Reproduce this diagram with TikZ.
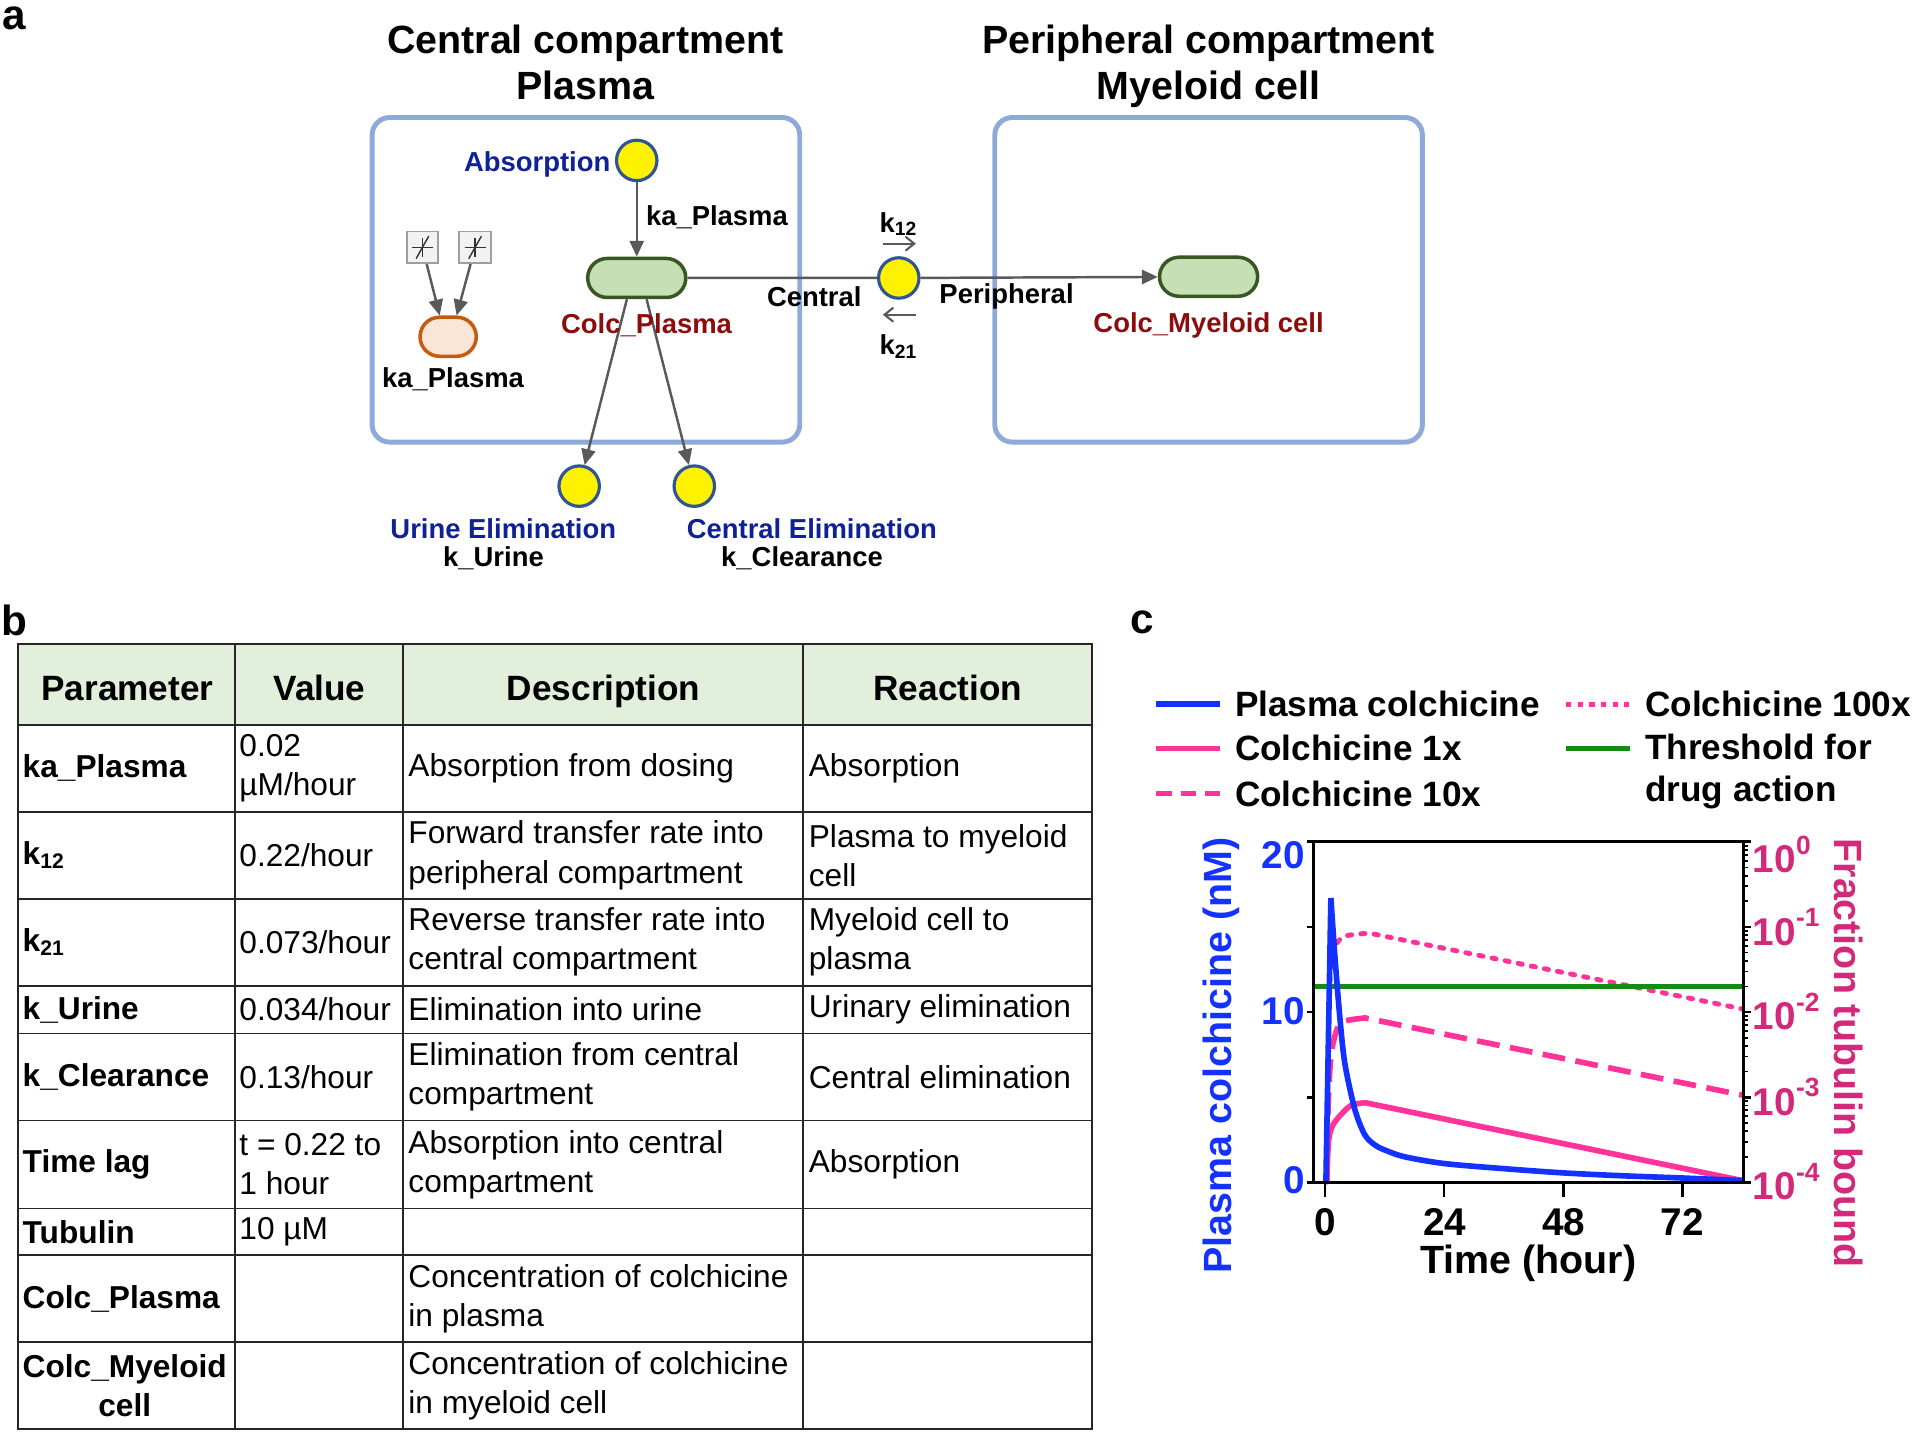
\documentclass[tikz,border=0pt]{standalone}
\usepackage{fontspec}
\setmainfont{Liberation Sans}
\usepackage{tikz}
\usetikzlibrary{positioning, arrows.meta, shapes.misc}
\definecolor{cmpblue}{RGB}{142,170,219}
\definecolor{pillgreen}{RGB}{197,224,180}
\definecolor{pilledge}{RGB}{56,87,35}
\definecolor{rxnedge}{RGB}{47,85,151}
\definecolor{srcfill}{RGB}{251,229,214}
\definecolor{srcedge}{RGB}{197,90,17}
\definecolor{flowgray}{RGB}{89,89,89}
\definecolor{rxnblue}{RGB}{16,32,150}
\definecolor{spred}{RGB}{140,12,12}
\definecolor{hdrgreen}{RGB}{226,239,218}
\definecolor{plotblue}{RGB}{20,50,255}
\definecolor{plotpink}{RGB}{255,51,153}
\definecolor{axpink}{RGB}{212,40,122}
\definecolor{thrgreen}{RGB}{20,140,20}
\newcommand{\fsz}[2]{\fontsize{#1}{#2}\selectfont}
\newcommand{\tenpow}[1]{10\raisebox{0.9ex}{\fsz{7.5}{8}#1}}
\tikzset{
    compbox/.style={draw=cmpblue, line width=1.4pt, rounded corners=5pt, minimum width=121.6pt, minimum height=92.3pt, inner sep=0pt},
    species/.style={rounded rectangle, draw=pilledge, fill=pillgreen, line width=1pt, minimum width=27.9pt, minimum height=11.1pt, inner sep=0pt},
    srcnode/.style={rounded rectangle, draw=srcedge, fill=srcfill, line width=1pt, minimum width=16pt, minimum height=11.1pt, inner sep=0pt},
    rxnnode/.style={circle, draw=rxnedge, fill=yellow, line width=0.9pt, minimum size=11.5pt, inner sep=0pt},
    sinknode/.style={rectangle, draw=gray!75, fill=gray!10, line width=0.5pt, minimum size=9pt, inner sep=0pt},
    flow/.style={draw=flowgray, line width=0.7pt, -{Triangle[length=4.5pt,width=4pt]}},
    flowline/.style={draw=flowgray, line width=0.7pt},
    ratearrow/.style={draw=flowgray, line width=0.6pt, -{Straight Barb[length=2.5pt,width=4pt]}},
    panellbl/.style={font=\bfseries\fsz{12}{14}, inner sep=0pt},
    titletxt/.style={font=\bfseries\fsz{11.2}{12.9}, align=center, inner sep=0pt, anchor=base},
    lbl/.style={font=\bfseries\fsz{7.8}{9}, inner sep=0pt},
    hdr/.style={font=\bfseries\fsz{10}{12}, inner sep=0pt, anchor=base},
    cellb/.style={font=\bfseries\fsz{9}{11.1}, anchor=west, align=left, inner sep=0pt},
    cell/.style={font=\fsz{9}{11.1}, anchor=west, align=left, inner sep=0pt},
    tabline/.style={draw=black!85, line width=0.5pt},
    legtxt/.style={font=\bfseries\fsz{10}{12.2}, anchor=west, align=left, inner sep=0pt},
    tickl/.style={font=\bfseries\fsz{11}{13}, inner sep=0pt},
    axttl/.style={font=\bfseries\fsz{11.2}{13}, inner sep=0pt},
    axline/.style={draw=black, line width=0.8pt}
}

\begin{document}
\begin{tikzpicture}[x=0.012245cm, y=-0.012245cm]
\useasboundingbox (0,0) rectangle (1568,1174);

% ---- a: model scheme
\node[panellbl] (la) at (12,15) {a};
\node[titletxt] (tCen) at (478,81) {Central compartment\\Plasma};
\node[titletxt] (tPer) at (987,81) {Peripheral compartment\\Myeloid cell};
\node[compbox] (cenBox) at (478.5,228.5) {};
\node[compbox] (perBox) at (987,228.5) {};

\node[rxnnode] (absR) at (520,131) {};
\node[species] (colcP) at (520,227) {};
\node[rxnnode] (trans) at (734,227) {};
\node[species] (colcM) at (987,226) {};
\node[srcnode] (kaP) at (366,275) {};
\node[sinknode] (src1) at (345,202) {};
\node[sinknode] (src2) at (388,202) {};
\node[rxnnode] (urine) at (473,397) {};
\node[rxnnode] (celim) at (567,397) {};

\foreach \s in {src1,src2} {
    \draw[gray!40!black, line width=0.4pt] ([xshift=-3pt]\s.center) -- ([xshift=3pt]\s.center);
    \draw[gray!40!black, line width=0.4pt] ([yshift=-2.6pt]\s.center) -- ([yshift=2.6pt]\s.center);
    \draw[gray!40!black, line width=0.4pt] ([shift={(-1.8pt,-3.2pt)}]\s.center) -- ([shift={(1.8pt,3.2pt)}]\s.center);
}

\draw[flow] (absR) -- (colcP);
\draw[flowline] (colcP) -- (trans);
\draw[flow] (trans) -- (colcM);
\draw[flow] (src1) -- ([xshift=-2.4pt]kaP.north);
\draw[flow] (src2) -- ([xshift=2.4pt]kaP.north);
\draw[flow] ([xshift=-2.8pt]colcP.south) -- (urine);
\draw[flow] ([xshift=2.8pt]colcP.south) -- (celim);

\coordinate (k12s) at (721,199);
\coordinate (k12e) at (748,199);
\coordinate (k21s) at (748,257);
\coordinate (k21e) at (721,257);
\draw[ratearrow] (k12s) -- (k12e);
\draw[ratearrow] (k21s) -- (k21e);

\node[lbl, rxnblue, anchor=east] (lAbs) at (499,134) {Absorption};
\node[lbl, anchor=west] (lKa) at (527,177) {ka\_Plasma};
\node[lbl, spred] (lColcP) at (528,266) {Colc\_Plasma};
\node[lbl] (lCen) at (665,242) {Central};
\node[lbl] (lPer) at (822,242) {Peripheral};
\node[lbl] (lk12) at (734,183) {k\textsubscript{12}};
\node[lbl] (lk21) at (734,283) {k\textsubscript{21}};
\node[lbl, spred] (lColcM) at (987,266) {Colc\_Myeloid cell};
\node[lbl] (lKaSrc) at (370,310) {ka\_Plasma};
\node[lbl, rxnblue] (lUri) at (411,432) {Urine Elimination};
\node[lbl] (lkUri) at (403,456) {k\_Urine};
\node[lbl, rxnblue] (lCel) at (663,432) {Central Elimination};
\node[lbl] (lkCl) at (655,456) {k\_Clearance};

% ---- b: parameter table
\node[panellbl] (lb) at (12,507) {b};
\fill[hdrgreen] (15,526) rectangle (892,592);
\draw[tabline] (15,526) rectangle (892,1167);
\foreach \ry in {592,663,734,805,844,915,987,1025,1096}
    \draw[tabline] (15,\ry) -- (892,\ry);
\foreach \cx in {192,329,656}
    \draw[tabline] (\cx,526) -- (\cx,1167);

\node[hdr] (hPar) at (104,572) {Parameter};
\node[hdr] (hVal) at (261,572) {Value};
\node[hdr] (hDes) at (493,572) {Description};
\node[hdr] (hRxn) at (774,572) {Reaction};

\node[cellb] (pKa) at (18,627.5) {ka\_Plasma};
\node[cell] (vKa) at (195,627.5) {0.02\\µM/hour};
\node[cell] (dKa) at (333,627.5) {Absorption from dosing};
\node[cell] (rKa) at (660,627.5) {Absorption};

\node[cellb] (pK12) at (18,698.5) {k\textsubscript{12}};
\node[cell] (vK12) at (195,698.5) {0.22/hour};
\node[cell] (dK12) at (333,698.5) {Forward transfer rate into\\peripheral compartment};
\node[cell] (rK12) at (660,698.5) {Plasma to myeloid\\cell};

\node[cellb] (pK21) at (18,769.5) {k\textsubscript{21}};
\node[cell] (vK21) at (195,769.5) {0.073/hour};
\node[cell] (dK21) at (333,769.5) {Reverse transfer rate into\\central compartment};
\node[cell] (rK21) at (660,769.5) {Myeloid cell to\\plasma};

\node[cellb] (pKu) at (18,824.5) {k\_Urine};
\node[cell] (vKu) at (195,824.5) {0.034/hour};
\node[cell] (dKu) at (333,824.5) {Elimination into urine};
\node[cell] (rKu) at (660,824.5) {Urinary elimination};

\node[cellb] (pKc) at (18,879.5) {k\_Clearance};
\node[cell] (vKc) at (195,879.5) {0.13/hour};
\node[cell] (dKc) at (333,879.5) {Elimination from central\\compartment};
\node[cell] (rKc) at (660,879.5) {Central elimination};

\node[cellb] (pLag) at (18,951) {Time lag};
\node[cell] (vLag) at (195,951) {t = 0.22 to\\1 hour};
\node[cell] (dLag) at (333,951) {Absorption into central\\compartment};
\node[cell] (rLag) at (660,951) {Absorption};

\node[cellb] (pTub) at (18,1006) {Tubulin};
\node[cell] (vTub) at (195,1006) {10 µM};

\node[cellb] (pCp) at (18,1060.5) {Colc\_Plasma};
\node[cell] (dCp) at (333,1060.5) {Concentration of colchicine\\in plasma};

\node[cellb, align=center] (pCm) at (18,1131.5) {Colc\_Myeloid\\cell};
\node[cell] (dCm) at (333,1131.5) {Concentration of colchicine\\in myeloid cell};

% ---- c: simulation plot
\node[panellbl] (lc) at (933,508) {c};

\draw[plotblue, line width=1.5pt] (944,575) -- (996,575);
\draw[plotpink, line width=1.5pt] (944,611) -- (996,611);
\draw[plotpink, line width=1.5pt, dash pattern=on 4.5pt off 2.5pt] (944,648) -- (996,648);
\draw[plotpink, line width=1.4pt, dash pattern=on 1.5pt off 1.8pt] (1279,575) -- (1331,575);
\draw[thrgreen, line width=1.5pt] (1279,611) -- (1331,611);
\node[legtxt] (lgBlue) at (1008,575) {Plasma colchicine};
\node[legtxt] (lgOne) at (1008,611) {Colchicine 1x};
\node[legtxt] (lgTen) at (1008,648) {Colchicine 10x};
\node[legtxt] (lgHun) at (1343,575) {Colchicine 100x};
\node[legtxt] (lgThr) at (1343,630) {Threshold for\\drug action};

% curves, fraction bound (log scale, 1 unit = 1 decade above 1e-4)
\begin{scope}[shift={(1082,965.5)}, x=0.049653cm, y=0.85103cm]
    \draw[plotpink, line width=1.4pt, dash pattern=on 1.2pt off 2.6pt, line cap=round]
        plot[smooth, tension=0.5] coordinates {(0.3,0) (0.6,1.4) (0.9,2.2) (1.2,2.57) (2,2.77) (4,2.89) (9,2.925)} -- (84,2.036);
    \draw[plotpink, line width=1.6pt, dash pattern=on 6.5pt off 3pt]
        plot[smooth, tension=0.5] coordinates {(0.3,0) (0.6,0.8) (1.2,1.475) (2.4,1.79) (3.8,1.89) (8.1,1.93)} -- (84,1.024);
    \draw[plotpink, line width=1.6pt]
        plot[smooth, tension=0.5] coordinates {(0.4,0) (0.55,0.3) (0.8,0.52) (1.5,0.66) (2.85,0.77) (5.2,0.9) (8.1,0.935)} -- (84,0.02);
\end{scope}

\draw[thrgreen, line width=1.6pt] (1073,805.5) -- (1424,805.5);

% plasma concentration (nM)
\begin{scope}[shift={(1082,965.5)}, x=0.049653cm, y=0.17021cm]
    \draw[plotblue, line width=1.6pt, line join=round] (0.2,0) -- (1.2,16.7)
        plot[smooth, tension=0.5] coordinates {(1.2,16.7) (2,13.3) (3,9.7) (4,7.0) (6,4.3) (8,2.8) (10,2.2) (12,1.9) (16,1.5) (24,1.1) (36,0.8) (48,0.55) (60,0.38) (72,0.25) (84,0.1)};
\end{scope}

\draw[axline] (1073,687) rectangle (1424,965.5);
\foreach \v in {0,5,...,20}
    \draw[axline] (1073,{965.5-13.9*\v}) -- ++(-6,0);
\foreach \t in {0,24,48,72}
    \draw[axline] ({1082+4.055*\t},965.5) -- ++(0,12);
\foreach \d in {0,...,4}
    \draw[axline] (1424,{965.5-69.5*\d}) -- ++(6,0);
\foreach \d in {0,...,3}
    \foreach \k in {2,...,9}
        \draw[draw=black, line width=0.5pt] (1424,{965.5-69.5*(\d+log10(\k))}) -- ++(3.5,0);

\node[tickl, plotblue, anchor=east] (y0) at (1066,964) {0};
\node[tickl, plotblue, anchor=east] (y10) at (1066,826) {10};
\node[tickl, plotblue, anchor=east] (y20) at (1066,698) {20};
\node[tickl] (x0) at (1082,998) {0};
\node[tickl] (x24) at (1180,998) {24};
\node[tickl] (x48) at (1277,998) {48};
\node[tickl] (x72) at (1374,998) {72};
\node[tickl, axpink, anchor=west] (f0) at (1431,698) {\tenpow{0}};
\node[tickl, axpink, anchor=west] (f1) at (1431,757) {\tenpow{-1}};
\node[tickl, axpink, anchor=west] (f2) at (1431,826) {\tenpow{-2}};
\node[tickl, axpink, anchor=west] (f3) at (1431,896) {\tenpow{-3}};
\node[tickl, axpink, anchor=west] (f4) at (1431,965) {\tenpow{-4}};

\node[axttl] (xT) at (1248,1032) {Time (hour)};
\node[axttl, plotblue, rotate=90] (yL) at (997,862) {Plasma colchicine (nM)};
\node[axttl, axpink, rotate=-90] (yR) at (1510,860) {Fraction tubulin bound};
\end{tikzpicture}
\end{document}
